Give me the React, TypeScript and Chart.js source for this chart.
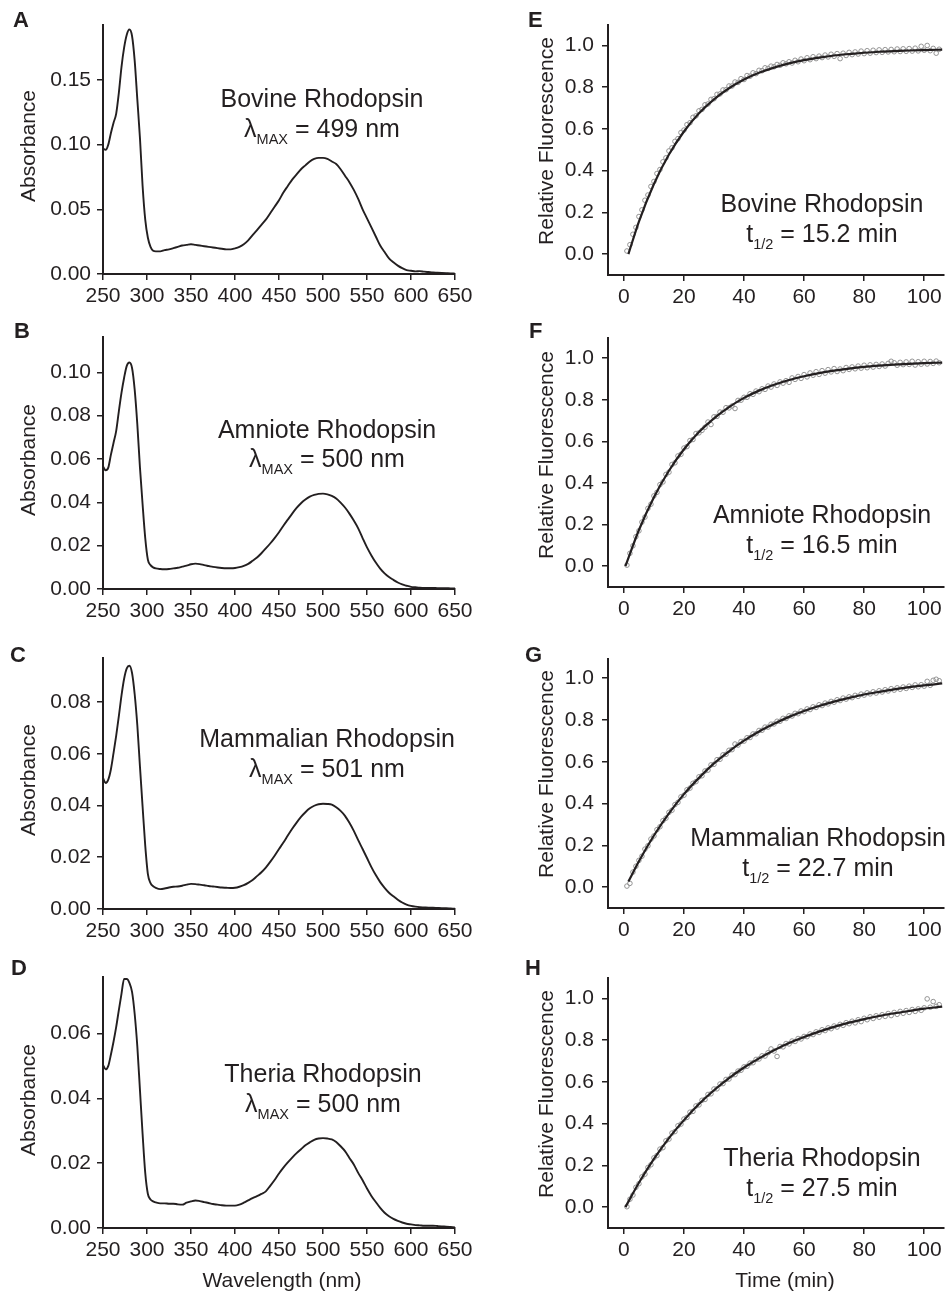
import React, { useEffect, useRef } from "react";
import { Chart, registerables } from "chart.js";

Chart.register(...registerables);

const PAGE_W = 949;
const PAGE_H = 1291;
const FONT = '"Liberation Sans", Arial, Helvetica, sans-serif';
const INK = "#231f20";
const DOT = "#939393";

// ---------- Absorbance spectra (left column) ----------
const WAVELENGTH_NM = [
  250, 253, 256, 259, 262, 265, 268, 271, 274, 277, 280, 283, 286, 289, 292, 295, 298, 301, 304, 307, 310,
  315, 320, 325, 330, 335, 340, 345, 350, 355, 360, 365, 370, 375, 380, 385, 390, 395, 400, 405, 410, 415,
  420, 425, 430, 435, 440, 445, 450, 455, 460, 465, 470, 475, 480, 485, 490, 495, 500, 505, 510, 515, 520,
  525, 530, 535, 540, 545, 550, 555, 560, 565, 570, 575, 580, 585, 590, 595, 600, 605, 610, 615, 620, 625,
  630, 635, 640, 645, 650,
];

const ABS_BOVINE = [
  0.097, 0.096, 0.1, 0.109, 0.117, 0.124, 0.14, 0.16, 0.175, 0.185, 0.189, 0.184, 0.165, 0.135, 0.105, 0.068,
  0.042, 0.028, 0.021, 0.018, 0.0175,
  0.0175, 0.0185, 0.019, 0.02, 0.021, 0.022, 0.0225, 0.023, 0.0225, 0.022, 0.0215, 0.021, 0.0205, 0.02, 0.0195,
  0.019, 0.019, 0.0198, 0.021, 0.023, 0.026, 0.03, 0.034, 0.038, 0.042, 0.047, 0.052, 0.057, 0.063, 0.068,
  0.073, 0.077, 0.081, 0.084, 0.087, 0.089, 0.0898, 0.0898, 0.089, 0.087, 0.085, 0.081, 0.076, 0.071, 0.065,
  0.058, 0.05, 0.043, 0.036, 0.029, 0.022, 0.017, 0.012, 0.009, 0.0065, 0.0045, 0.003, 0.0025, 0.002, 0.0022,
  0.0018, 0.0015, 0.0012, 0.001, 0.0008, 0.0006, 0.0004, 0.0003,
];

const ABS_AMNIOTE = [
  0.0566, 0.0548, 0.056, 0.062, 0.0675, 0.073, 0.082, 0.0905, 0.0975, 0.103, 0.1045, 0.102, 0.092, 0.076,
  0.056, 0.039, 0.0235, 0.0135, 0.011, 0.01, 0.0095,
  0.0092, 0.0091, 0.0092, 0.0095, 0.0098, 0.0103, 0.0108, 0.0114, 0.0117, 0.0115, 0.011, 0.0106, 0.0102,
  0.0099, 0.0097, 0.0096, 0.0096, 0.0097, 0.0101, 0.0107, 0.0116, 0.013, 0.0145, 0.0165, 0.0187, 0.021,
  0.0235, 0.0262, 0.0292, 0.032, 0.0348, 0.0374, 0.0396, 0.0413, 0.0426, 0.0434, 0.0439, 0.044, 0.0437,
  0.043, 0.0418, 0.0399, 0.0376, 0.0348, 0.0316, 0.028, 0.0235, 0.0192, 0.0155, 0.0122, 0.0094, 0.0072,
  0.0055, 0.0042, 0.003, 0.0021, 0.0015, 0.001, 0.0008, 0.0006, 0.0005, 0.0005, 0.0005, 0.0004, 0.0004,
  0.0004, 0.0003, 0.0003,
];

const ABS_MAMMALIAN = [
  0.0506, 0.0487, 0.05, 0.054, 0.0603, 0.067, 0.0745, 0.0825, 0.089, 0.093, 0.094, 0.0912, 0.083, 0.071,
  0.055, 0.0395, 0.0245, 0.0135, 0.01, 0.0088, 0.0082,
  0.0077, 0.0079, 0.0083, 0.0086, 0.0087, 0.009, 0.0094, 0.0097, 0.0096, 0.0094, 0.0092, 0.0089, 0.0087,
  0.0085, 0.0083, 0.0082, 0.0081, 0.0082, 0.0086, 0.0092, 0.0101, 0.0112, 0.0127, 0.0142, 0.016, 0.0182,
  0.0206, 0.0232, 0.0257, 0.0284, 0.031, 0.0334, 0.0356, 0.0374, 0.0389, 0.0399, 0.0405, 0.0407, 0.0406,
  0.0403, 0.0393, 0.0379, 0.036, 0.0333, 0.0302, 0.0266, 0.0232, 0.0197, 0.0162, 0.0131, 0.0104, 0.0082,
  0.0063, 0.0049, 0.0036, 0.0025, 0.0017, 0.0012, 0.0009, 0.0007, 0.0006, 0.0005, 0.0005, 0.0004, 0.0003,
  0.0003, 0.0002, 0.0001,
];

const ABS_THERIA = [
  0.0503, 0.0489, 0.05, 0.0535, 0.0575, 0.062, 0.0672, 0.0722, 0.0768, 0.0768, 0.0756, 0.0728, 0.066, 0.056,
  0.0425, 0.029, 0.017, 0.0105, 0.0088, 0.0082, 0.0079,
  0.0076, 0.0076, 0.0075, 0.0075, 0.0073, 0.0072, 0.0078, 0.0082, 0.0085, 0.0083, 0.008, 0.0077, 0.0074,
  0.0072, 0.007, 0.0069, 0.0069, 0.0069, 0.0072, 0.0078, 0.0085, 0.0092, 0.0098, 0.0105, 0.0113, 0.013,
  0.0148, 0.0168, 0.0186, 0.0202, 0.0217, 0.0231, 0.0243, 0.0255, 0.0264, 0.0272, 0.0276, 0.0277, 0.0276,
  0.0273, 0.0265, 0.0252, 0.0237, 0.0216, 0.0196, 0.017, 0.0147, 0.0122, 0.0099, 0.008, 0.0062, 0.0047,
  0.0036, 0.0028, 0.0022, 0.0017, 0.0013, 0.0011, 0.0009, 0.0008, 0.0007, 0.0007, 0.0007, 0.0006, 0.0005,
  0.0004, 0.0003, 0.0002,
];

// ---------- Fluorescence kinetics (right column) ----------
const SAMPLE_TIME_MIN = [
  1, 2, 3, 4, 5, 6, 7, 8, 9, 10, 11, 12, 13, 14, 15, 16, 17, 18, 19, 20, 21, 22, 23, 24, 25, 26, 27, 28, 29,
  30, 31, 32, 33, 34, 35, 36, 37, 38, 39, 40, 41, 42, 43, 44, 45, 46, 47, 48, 49, 50, 51, 52, 53, 54, 55, 56,
  57, 58, 59, 60, 61, 62, 63, 64, 65, 66, 67, 68, 69, 70, 71, 72, 73, 74, 75, 76, 77, 78, 79, 80, 81, 82, 83,
  84, 85, 86, 87, 88, 89, 90, 91, 92, 93, 94, 95, 96, 97, 98, 99, 100, 101, 102, 103, 104, 105,
];

const FL_BOVINE = [
  0.015, 0.045, 0.095, 0.128, 0.18, 0.212, 0.258, 0.283, 0.324, 0.348,
  0.386, 0.405, 0.442, 0.461, 0.494, 0.509, 0.54, 0.553, 0.582, 0.594,
  0.62, 0.629, 0.655, 0.662, 0.686, 0.693, 0.715, 0.719, 0.741, 0.744,
  0.765, 0.767, 0.786, 0.787, 0.805, 0.805, 0.824, 0.822, 0.84, 0.836,
  0.855, 0.852, 0.868, 0.864, 0.88, 0.878, 0.892, 0.889, 0.9, 0.897,
  0.908, 0.904, 0.916, 0.911, 0.921, 0.915, 0.928, 0.921, 0.934, 0.926,
  0.94, 0.931, 0.945, 0.936, 0.948, 0.941, 0.953, 0.944, 0.957, 0.947,
  0.96, 0.936, 0.962, 0.951, 0.966, 0.955, 0.968, 0.958, 0.972, 0.96,
  0.974, 0.962, 0.976, 0.965, 0.978, 0.966, 0.979, 0.968, 0.98, 0.969,
  0.982, 0.97, 0.983, 0.971, 0.984, 0.972, 0.986, 0.973, 0.995, 0.976,
  0.999, 0.974, 0.985, 0.962, 0.981,
];

const FL_AMNIOTE = [
  0.005, 0.062, 0.098, 0.142, 0.17, 0.212, 0.236, 0.278, 0.298, 0.338,
  0.355, 0.392, 0.405, 0.441, 0.452, 0.489, 0.497, 0.53, 0.538, 0.568,
  0.575, 0.604, 0.609, 0.638, 0.641, 0.653, 0.668, 0.693, 0.681, 0.718,
  0.72, 0.741, 0.74, 0.762, 0.761, 0.77, 0.758, 0.797, 0.798, 0.812,
  0.812, 0.829, 0.826, 0.842, 0.839, 0.853, 0.85, 0.866, 0.861, 0.876,
  0.869, 0.886, 0.88, 0.892, 0.884, 0.905, 0.898, 0.912, 0.903, 0.921,
  0.91, 0.929, 0.918, 0.935, 0.922, 0.94, 0.928, 0.945, 0.934, 0.95,
  0.936, 0.948, 0.94, 0.955, 0.946, 0.958, 0.949, 0.962, 0.952, 0.966,
  0.954, 0.968, 0.957, 0.97, 0.96, 0.972, 0.962, 0.975, 0.985, 0.978,
  0.966, 0.98, 0.969, 0.982, 0.97, 0.985, 0.967, 0.983, 0.971, 0.985,
  0.972, 0.984, 0.975, 0.986, 0.978,
];

const FL_MAMMALIAN = [
  0.005, 0.018, 0.072, 0.1, 0.128, 0.148, 0.182, 0.198, 0.23, 0.245,
  0.275, 0.289, 0.318, 0.33, 0.358, 0.368, 0.395, 0.406, 0.432, 0.44,
  0.466, 0.474, 0.497, 0.505, 0.528, 0.533, 0.556, 0.56, 0.585, 0.588,
  0.61, 0.612, 0.633, 0.636, 0.655, 0.658, 0.685, 0.68, 0.697, 0.699,
  0.715, 0.716, 0.733, 0.734, 0.75, 0.751, 0.766, 0.766, 0.78, 0.781,
  0.794, 0.794, 0.808, 0.807, 0.82, 0.819, 0.832, 0.83, 0.843, 0.84,
  0.853, 0.85, 0.863, 0.86, 0.873, 0.869, 0.881, 0.877, 0.889, 0.885,
  0.897, 0.893, 0.905, 0.9, 0.911, 0.907, 0.918, 0.913, 0.924, 0.919,
  0.93, 0.925, 0.935, 0.929, 0.94, 0.934, 0.945, 0.939, 0.95, 0.943,
  0.954, 0.947, 0.958, 0.951, 0.962, 0.956, 0.968, 0.959, 0.969, 0.962,
  0.985, 0.966, 0.99, 0.995, 0.988,
];

const FL_THERIA = [
  0.002, 0.038, 0.058, 0.095, 0.112, 0.145, 0.158, 0.19, 0.203, 0.236,
  0.247, 0.278, 0.285, 0.318, 0.326, 0.355, 0.362, 0.39, 0.398, 0.422,
  0.43, 0.455, 0.459, 0.485, 0.49, 0.512, 0.516, 0.54, 0.543, 0.566,
  0.567, 0.59, 0.592, 0.612, 0.614, 0.633, 0.635, 0.652, 0.656, 0.672,
  0.675, 0.69, 0.692, 0.708, 0.71, 0.725, 0.724, 0.74, 0.758, 0.748,
  0.722, 0.77, 0.768, 0.784, 0.782, 0.796, 0.794, 0.808, 0.806, 0.818,
  0.817, 0.83, 0.827, 0.84, 0.837, 0.85, 0.846, 0.859, 0.855, 0.868,
  0.863, 0.876, 0.871, 0.884, 0.879, 0.891, 0.883, 0.898, 0.889, 0.905,
  0.898, 0.912, 0.904, 0.917, 0.91, 0.922, 0.914, 0.928, 0.918, 0.933,
  0.924, 0.938, 0.929, 0.942, 0.933, 0.947, 0.938, 0.95, 0.943, 0.955,
  0.998, 0.958, 0.985, 0.962, 0.97,
];

// fitted single-exponential curves
const FIT_TIME_BOVINE = [1.5, 5, 10, 15, 20, 25, 30, 35, 40, 45, 50, 55, 60, 65, 70, 75, 80, 85, 90, 95, 100, 106];
const FIT_BOVINE = [0, 0.156, 0.336, 0.477, 0.587, 0.674, 0.741, 0.794, 0.836, 0.868, 0.893, 0.913, 0.929, 0.941, 0.951, 0.958, 0.964, 0.969, 0.972, 0.975, 0.977, 0.979];
const FIT_TIME_AMNIOTE = [0.5, 5, 10, 15, 20, 25, 30, 35, 40, 45, 50, 55, 60, 65, 70, 75, 80, 85, 90, 95, 100, 106];
const FIT_AMNIOTE = [0, 0.174, 0.332, 0.459, 0.562, 0.645, 0.711, 0.765, 0.809, 0.844, 0.872, 0.895, 0.913, 0.928, 0.94, 0.95, 0.958, 0.964, 0.969, 0.973, 0.976, 0.979];
const FIT_TIME_MAMMALIAN = [1.5, 5, 10, 15, 20, 25, 30, 35, 40, 45, 50, 55, 60, 65, 70, 75, 80, 85, 90, 95, 100, 106];
const FIT_MAMMALIAN = [0.027, 0.124, 0.247, 0.353, 0.445, 0.523, 0.592, 0.65, 0.701, 0.745, 0.782, 0.815, 0.843, 0.867, 0.888, 0.906, 0.922, 0.935, 0.947, 0.957, 0.966, 0.975];
const FIT_TIME_THERIA = [0.5, 5, 10, 15, 20, 25, 30, 35, 40, 45, 50, 55, 60, 65, 70, 75, 80, 85, 90, 95, 100, 106];
const FIT_THERIA = [0, 0.117, 0.231, 0.331, 0.417, 0.494, 0.56, 0.618, 0.669, 0.713, 0.752, 0.786, 0.815, 0.841, 0.864, 0.884, 0.901, 0.916, 0.929, 0.94, 0.951, 0.961];

// ---------- tick labels ----------
const WL_TICKS = [250, 300, 350, 400, 450, 500, 550, 600, 650];
const TIME_TICKS = [0, 20, 40, 60, 80, 100];
const FL_TICKS = [0, 0.2, 0.4, 0.6, 0.8, 1.0];
const ABS_TICKS_BOVINE = [0, 0.05, 0.1, 0.15];
const ABS_TICKS_AMNIOTE = [0, 0.02, 0.04, 0.06, 0.08, 0.1];
const ABS_TICKS_MAMMALIAN = [0, 0.02, 0.04, 0.06, 0.08];
const ABS_TICKS_THERIA = [0, 0.02, 0.04, 0.06];

type Panel = {
  key: string;
  kind: "spectrum" | "kinetics";
  letter: string;
  letterX: number;
  letterY: number;
  area: { l: number; t: number; r: number; b: number };
  xMin: number;
  xMax: number;
  yMin: number;
  yMax: number;
  xTicks: number[];
  yTicks: number[];
  dec: number;
  lineX: number[];
  lineY: number[];
  dotX?: number[];
  dotY?: number[];
  name: string;
  sym: string;
  sub: string;
  rest: string;
  subDy: number;
  cx: number;
  y1: number;
  y2: number;
  yTitle: string;
  yTitleX: number;
  yTitleY: number;
  xTitle?: string;
  xTitleX?: number;
  xTitleY?: number;
};

const LEFT = { l: 103, r: 455 };
const RIGHT = { l: 608, r: 946 };

const PANELS: Panel[] = [
  {
    key: "A", kind: "spectrum", letter: "A", letterX: 13, letterY: 27,
    area: { ...LEFT, t: 25, b: 274 }, xMin: 250, xMax: 650, yMin: 0, yMax: 0.1925,
    xTicks: WL_TICKS, yTicks: ABS_TICKS_BOVINE, dec: 2, lineX: WAVELENGTH_NM, lineY: ABS_BOVINE,
    name: "Bovine Rhodopsin", sym: "λ", sub: "MAX", rest: " = 499 nm", subDy: 6.5, cx: 322, y1: 107, y2: 137,
    yTitle: "Absorbance", yTitleX: 35, yTitleY: 146,
  },
  {
    key: "B", kind: "spectrum", letter: "B", letterX: 14, letterY: 338,
    area: { ...LEFT, t: 337, b: 589 }, xMin: 250, xMax: 650, yMin: 0, yMax: 0.1163,
    xTicks: WL_TICKS, yTicks: ABS_TICKS_AMNIOTE, dec: 2, lineX: WAVELENGTH_NM, lineY: ABS_AMNIOTE,
    name: "Amniote Rhodopsin", sym: "λ", sub: "MAX", rest: " = 500 nm", subDy: 6.5, cx: 327, y1: 438, y2: 467,
    yTitle: "Absorbance", yTitleX: 35, yTitleY: 460,
  },
  {
    key: "C", kind: "spectrum", letter: "C", letterX: 10, letterY: 662,
    area: { ...LEFT, t: 658, b: 909 }, xMin: 250, xMax: 650, yMin: 0, yMax: 0.097,
    xTicks: WL_TICKS, yTicks: ABS_TICKS_MAMMALIAN, dec: 2, lineX: WAVELENGTH_NM, lineY: ABS_MAMMALIAN,
    name: "Mammalian Rhodopsin", sym: "λ", sub: "MAX", rest: " = 501 nm", subDy: 6.5, cx: 327, y1: 747, y2: 777,
    yTitle: "Absorbance", yTitleX: 35, yTitleY: 780,
  },
  {
    key: "D", kind: "spectrum", letter: "D", letterX: 11, letterY: 975,
    area: { ...LEFT, t: 977, b: 1228 }, xMin: 250, xMax: 650, yMin: 0, yMax: 0.0774,
    xTicks: WL_TICKS, yTicks: ABS_TICKS_THERIA, dec: 2, lineX: WAVELENGTH_NM, lineY: ABS_THERIA,
    name: "Theria Rhodopsin", sym: "λ", sub: "MAX", rest: " = 500 nm", subDy: 6.5, cx: 323, y1: 1082, y2: 1112,
    yTitle: "Absorbance", yTitleX: 35, yTitleY: 1100,
    xTitle: "Wavelength (nm)", xTitleX: 282, xTitleY: 1287,
  },
  {
    key: "E", kind: "kinetics", letter: "E", letterX: 528, letterY: 27,
    area: { ...RIGHT, t: 25, b: 275 }, xMin: -5.3, xMax: 106.6, yMin: -0.1, yMax: 1.097,
    xTicks: TIME_TICKS, yTicks: FL_TICKS, dec: 1, lineX: FIT_TIME_BOVINE, lineY: FIT_BOVINE,
    dotX: SAMPLE_TIME_MIN, dotY: FL_BOVINE,
    name: "Bovine Rhodopsin", sym: "t", sub: "1/2", rest: " = 15.2 min", subDy: 7, cx: 822, y1: 212, y2: 242,
    yTitle: "Relative Fluorescence", yTitleX: 553, yTitleY: 141,
  },
  {
    key: "F", kind: "kinetics", letter: "F", letterX: 529, letterY: 338,
    area: { ...RIGHT, t: 338, b: 587 }, xMin: -5.3, xMax: 106.6, yMin: -0.1, yMax: 1.097,
    xTicks: TIME_TICKS, yTicks: FL_TICKS, dec: 1, lineX: FIT_TIME_AMNIOTE, lineY: FIT_AMNIOTE,
    dotX: SAMPLE_TIME_MIN, dotY: FL_AMNIOTE,
    name: "Amniote Rhodopsin", sym: "t", sub: "1/2", rest: " = 16.5 min", subDy: 7, cx: 822, y1: 523, y2: 553,
    yTitle: "Relative Fluorescence", yTitleX: 553, yTitleY: 455,
  },
  {
    key: "G", kind: "kinetics", letter: "G", letterX: 525, letterY: 662,
    area: { ...RIGHT, t: 659, b: 908 }, xMin: -5.3, xMax: 106.6, yMin: -0.1, yMax: 1.092,
    xTicks: TIME_TICKS, yTicks: FL_TICKS, dec: 1, lineX: FIT_TIME_MAMMALIAN, lineY: FIT_MAMMALIAN,
    dotX: SAMPLE_TIME_MIN, dotY: FL_MAMMALIAN,
    name: "Mammalian Rhodopsin", sym: "t", sub: "1/2", rest: " = 22.7 min", subDy: 7, cx: 818, y1: 846, y2: 876,
    yTitle: "Relative Fluorescence", yTitleX: 553, yTitleY: 774,
  },
  {
    key: "H", kind: "kinetics", letter: "H", letterX: 525, letterY: 975,
    area: { ...RIGHT, t: 978, b: 1228 }, xMin: -5.3, xMax: 106.6, yMin: -0.1, yMax: 1.098,
    xTicks: TIME_TICKS, yTicks: FL_TICKS, dec: 1, lineX: FIT_TIME_THERIA, lineY: FIT_THERIA,
    dotX: SAMPLE_TIME_MIN, dotY: FL_THERIA,
    name: "Theria Rhodopsin", sym: "t", sub: "1/2", rest: " = 27.5 min", subDy: 7, cx: 822, y1: 1166, y2: 1196,
    yTitle: "Relative Fluorescence", yTitleX: 553, yTitleY: 1094,
    xTitle: "Time (min)", xTitleX: 785, xTitleY: 1287,
  },
];

const Y_BOX = 80;
const X_BOX = 50;

function makeOverlay(p: Panel) {
  return {
    id: "overlay" + p.key,
    afterDraw(chart: any) {
      const ctx: CanvasRenderingContext2D = chart.ctx;
      ctx.save();
      ctx.fillStyle = INK;
      ctx.textBaseline = "alphabetic";
      // panel letter
      ctx.font = `bold 22px ${FONT}`;
      ctx.textAlign = "left";
      ctx.fillText(p.letter, p.letterX, p.letterY);
      // annotation
      const big = `25px ${FONT}`;
      const small = `14.5px ${FONT}`;
      ctx.font = big;
      ctx.textAlign = "center";
      ctx.fillText(p.name, p.cx, p.y1);
      ctx.textAlign = "left";
      const w1 = ctx.measureText(p.sym).width;
      const w3 = ctx.measureText(p.rest).width;
      ctx.font = small;
      const w2 = ctx.measureText(p.sub).width;
      let x = p.cx - (w1 + w2 + w3) / 2;
      ctx.font = big;
      ctx.fillText(p.sym, x, p.y2);
      x += w1;
      ctx.font = small;
      ctx.fillText(p.sub, x, p.y2 + p.subDy);
      x += w2;
      ctx.font = big;
      ctx.fillText(p.rest, x, p.y2);
      // x title
      ctx.font = `21px ${FONT}`;
      if (p.xTitle) {
        ctx.textAlign = "center";
        ctx.fillText(p.xTitle, p.xTitleX!, p.xTitleY!);
      }
      // y title
      ctx.translate(p.yTitleX, p.yTitleY);
      ctx.rotate(-Math.PI / 2);
      ctx.textAlign = "center";
      ctx.fillText(p.yTitle, 0, 0);
      ctx.restore();
    },
  };
}

function makeConfig(p: Panel): any {
  const line = p.lineX.map((x, i) => ({ x, y: p.lineY[i] }));
  const datasets: any[] = [
    {
      data: line,
      borderColor: INK,
      borderWidth: p.kind === "spectrum" ? 1.9 : 2.2,
      pointRadius: 0,
      cubicInterpolationMode: "monotone",
      fill: false,
    },
  ];
  if (p.dotX && p.dotY) {
    datasets.push({
      data: p.dotX.map((x, i) => ({ x, y: p.dotY![i] })),
      showLine: false,
      pointRadius: 2.3,
      pointStyle: "circle",
      pointBackgroundColor: "rgba(255,255,255,0)",
      pointBorderColor: DOT,
      pointBorderWidth: 1,
      borderColor: DOT,
    });
  }
  const tickFont = { family: FONT, size: 21 };
  const gridCommon = { drawOnChartArea: false, drawTicks: true, tickLength: 6, color: INK, lineWidth: 1.5 };
  const borderCommon = { display: true, color: INK, width: 2 };
  return {
    type: "line",
    data: { datasets },
    options: {
      responsive: false,
      maintainAspectRatio: false,
      animation: false,
      devicePixelRatio: 1,
      events: [],
      layout: {
        padding: {
          left: p.area.l - Y_BOX,
          right: PAGE_W - p.area.r,
          top: p.area.t,
          bottom: PAGE_H - p.area.b - X_BOX,
        },
      },
      plugins: { legend: { display: false }, tooltip: { enabled: false }, title: { display: false } },
      scales: {
        x: {
          type: "linear",
          min: p.xMin,
          max: p.xMax,
          afterBuildTicks: (s: any) => {
            s.ticks = p.xTicks.map((v) => ({ value: v }));
          },
          afterFit: (s: any) => {
            s.height = X_BOX;
          },
          grid: gridCommon,
          border: borderCommon,
          ticks: {
            autoSkip: false,
            maxRotation: 0,
            minRotation: 0,
            padding: 4,
            color: INK,
            font: tickFont,
            callback: (v: any) => String(v),
          },
        },
        y: {
          type: "linear",
          min: p.yMin,
          max: p.yMax,
          afterBuildTicks: (s: any) => {
            s.ticks = p.yTicks.map((v) => ({ value: v }));
          },
          afterFit: (s: any) => {
            s.width = Y_BOX;
          },
          grid: gridCommon,
          border: borderCommon,
          ticks: {
            autoSkip: false,
            padding: p.kind === "spectrum" ? 6 : 8,
            color: INK,
            font: tickFont,
            callback: (v: any) => Number(v).toFixed(p.dec),
          },
        },
      },
    },
    plugins: [makeOverlay(p)],
  };
}

function PanelCanvas({ panel }: { panel: Panel }) {
  const ref = useRef<HTMLCanvasElement | null>(null);
  useEffect(() => {
    if (!ref.current) return;
    const chart = new Chart(ref.current, makeConfig(panel));
    return () => chart.destroy();
  }, [panel]);
  return (
    <canvas
      ref={ref}
      width={PAGE_W}
      height={PAGE_H}
      style={{ position: "absolute", left: 0, top: 0, width: PAGE_W, height: PAGE_H }}
    />
  );
}

export default function App() {
  return (
    <div
      style={{
        position: "absolute",
        left: 0,
        top: 0,
        width: PAGE_W,
        height: PAGE_H,
        background: "#ffffff",
        overflow: "hidden",
      }}
    >
      {PANELS.map((p) => (
        <PanelCanvas key={p.key} panel={p} />
      ))}
    </div>
  );
}
